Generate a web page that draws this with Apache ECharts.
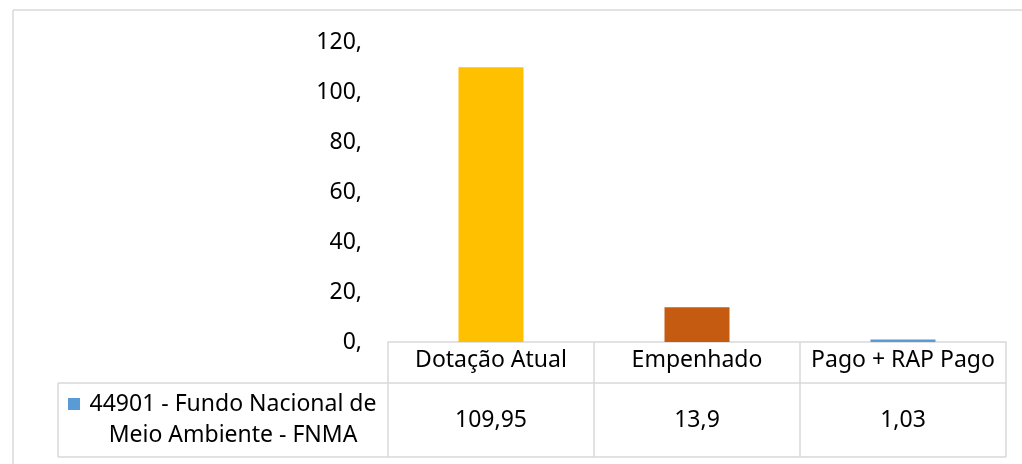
<!DOCTYPE html>
<html>
<head>
<meta charset="utf-8">
<script src="https://cdn.jsdelivr.net/npm/echarts@6/dist/echarts.min.js"></script>
<style>
	html, body { margin: 0; padding: 0; background: #fff; }
	#chart { width: 1022px; height: 464px; }
</style>
</head>
<body>
<div id="chart"></div>
<script>
// dados do gráfico
const categories = ['Dotação Atual', 'Empenhado', 'Pago + RAP Pago'];
const values = [109.95, 13.9, 1.03];
const valueLabels = ['109,95', '13,9', '1,03'];
const seriesName = '44901 - Fundo Nacional de\nMeio Ambiente - FNMA';
const barColors = ['#FFC000', '#C55A11', '#5B9BD5'];
const yMax = 120;
const yStep = 20;

const FONT = '"Noto Sans", sans-serif';
const FS = 23;
const LINE = '#d9d9d9';

const gridLeft = 388, gridRight = 16, gridTop = 42, gridBottom = 122;

let myChart = echarts.init(document.getElementById('chart'));

let option = {
	animation: false,
	textStyle: { fontFamily: FONT },
	grid: { left: gridLeft, right: gridRight, top: gridTop, bottom: gridBottom },
	xAxis: {
		type: 'category',
		data: categories,
		axisLine: { show: true, lineStyle: { color: LINE, width: 1.5 } },
		axisTick: { show: false },
		axisLabel: { color: '#000', fontSize: FS, margin: 7, fontFamily: FONT, interval: 0, hideOverlap: false }
	},
	yAxis: {
		type: 'value',
		min: 0,
		max: yMax,
		interval: yStep,
		axisLine: { show: false },
		axisTick: { show: false },
		splitLine: { show: false },
		axisLabel: {
			color: '#000',
			fontSize: FS,
			margin: 26,
			fontFamily: FONT,
			formatter: function(v) { return v + ','; }
		}
	},
	series: [
		{
			name: seriesName,
			type: 'bar',
			barWidth: 65,
			data: values.map(function(v, i) {
				return { value: v, itemStyle: { color: barColors[i] } };
			})
		}
	]
};
myChart.setOption(option);

// tabela de dados abaixo do gráfico
let W = 1022, H = 464;
let x0 = gridLeft, x1 = W - gridRight;
let axisY = H - gridBottom;
let rowY = axisY + 41, tableBottom = axisY + 115;
let legendLeft = 58;
let band = (x1 - x0) / categories.length;
let elements = [];

// borda externa
elements.push({ type: 'line', shape: { x1: 13, y1: 10, x2: W, y2: 10 }, style: { stroke: LINE, lineWidth: 1.5 } });
elements.push({ type: 'line', shape: { x1: 13, y1: 10, x2: 13, y2: H }, style: { stroke: LINE, lineWidth: 1.5 } });

for (let i = 0; i <= categories.length; i++) {
	let x = x0 + band * i;
	elements.push({ type: 'line', shape: { x1: x, y1: axisY, x2: x, y2: tableBottom }, style: { stroke: LINE, lineWidth: 1.5 } });
}
elements.push({ type: 'line', shape: { x1: legendLeft, y1: rowY, x2: x1, y2: rowY }, style: { stroke: LINE, lineWidth: 1.5 } });
elements.push({ type: 'line', shape: { x1: legendLeft, y1: tableBottom, x2: x1, y2: tableBottom }, style: { stroke: LINE, lineWidth: 1.5 } });
elements.push({ type: 'line', shape: { x1: legendLeft, y1: rowY, x2: legendLeft, y2: tableBottom }, style: { stroke: LINE, lineWidth: 1.5 } });

for (let i = 0; i < categories.length; i++) {
	let cx = myChart.convertToPixel({ xAxisIndex: 0 }, categories[i]);
	elements.push({
		type: 'text',
		x: cx,
		y: (rowY + tableBottom) / 2,
		style: { text: valueLabels[i], fill: '#000', font: FS + 'px ' + FONT, align: 'center', verticalAlign: 'middle' }
	});
}

// chave da legenda
elements.push({ type: 'rect', shape: { x: 68, y: 398, width: 12, height: 12 }, style: { fill: barColors[2] } });
elements.push({
	type: 'text',
	x: 233,
	y: (rowY + tableBottom) / 2,
	style: { text: seriesName, fill: '#000', font: FS + 'px ' + FONT, align: 'center', verticalAlign: 'middle', lineHeight: 31 }
});

myChart.setOption({ graphic: { elements: elements } });
</script>
</body>
</html>
